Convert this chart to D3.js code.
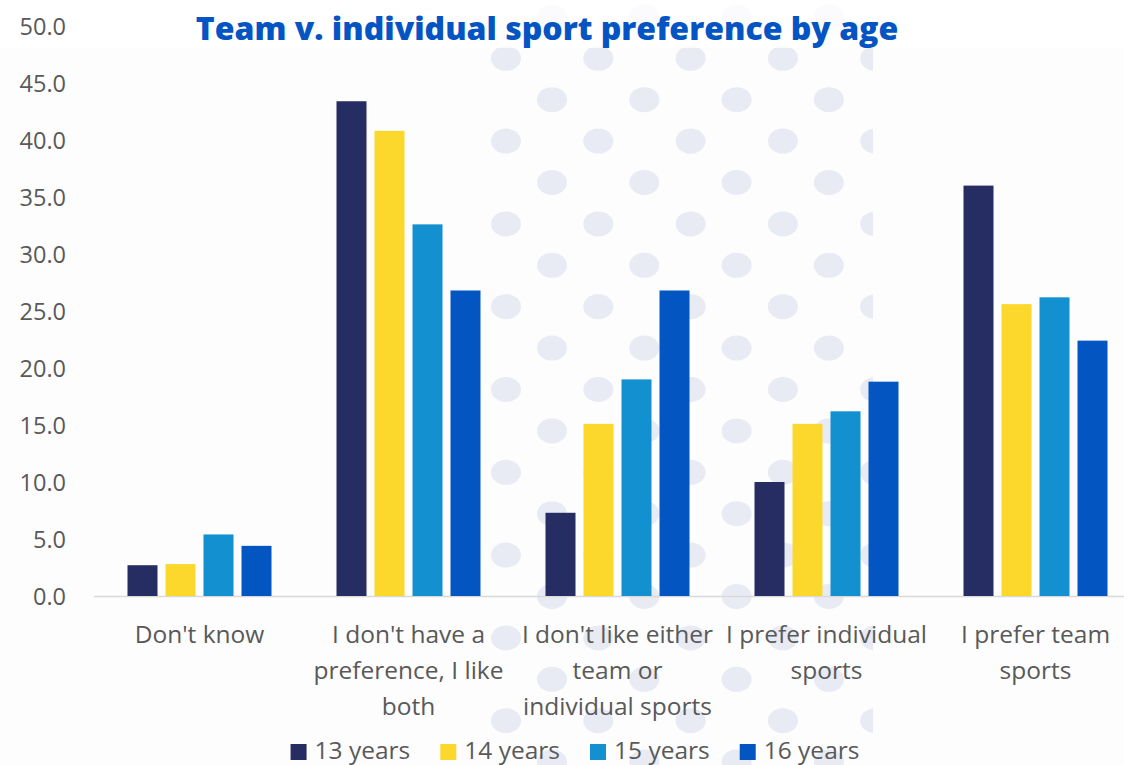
<!DOCTYPE html>
<html>
<head>
<meta charset="utf-8">
<script src="https://cdn.jsdelivr.net/npm/d3@7/dist/d3.min.js"></script>
<style>
  html, body { margin: 0; padding: 0; background: #fdfdfd; }
  svg { display: block; }
  .tick-label, .cat-label, .legend-label { font-family: "Open Sans", sans-serif; fill: #595959; }
</style>
</head>
<body>
<svg id="chart" width="1124" height="765"></svg>
<script>
// Survey answers: share of respondents (%) by age group
const categories = [
  "Don't know",
  "I don't have a preference, I like both",
  "I don't like either team or individual sports",
  "I prefer individual sports",
  "I prefer team sports"
];
// Axis label lines for each category
const categoryLines = [
  ["Don't know"],
  ["I don't have a", "preference, I like", "both"],
  ["I don't like either", "team or", "individual sports"],
  ["I prefer individual", "sports"],
  ["I prefer team", "sports"]
];
const seriesNames = ["13 years", "14 years", "15 years", "16 years"];
const age13 = [2.7, 43.4, 7.3, 10.0, 36.0];
const age14 = [2.8, 40.8, 15.1, 15.1, 25.6];
const age15 = [5.4, 32.6, 19.0, 16.2, 26.2];
const age16 = [4.4, 26.8, 26.8, 18.8, 22.4];
const seriesValues = [age13, age14, age15, age16];
const seriesColors = ["#262d63", "#fcd72c", "#1390d0", "#0356c2"];
const yTickValues = [0, 5, 10, 15, 20, 25, 30, 35, 40, 45, 50];
const titleText = "Team v. individual sport preference by age";

const W = 1124, H = 765;
const svg = d3.select("#chart");

// Decorative dotted backdrop
const dots = svg.append("g");
dots.append("clipPath").attr("id", "dotClip")
  .append("rect").attr("x", 486).attr("y", 0).attr("width", 387).attr("height", H);
const dotG = dots.append("g").attr("clip-path", "url(#dotClip)");
const rowStep = 41.4, colStep = 92.3;
for (let r = 0; r < 19; r++) {
  const cy = 16.9 + r * rowStep;
  const x0 = r % 2 === 0 ? 552 : 506;
  for (let c = 0; c < 5; c++) {
    dotG.append("ellipse")
      .attr("cx", x0 + c * colStep).attr("cy", cy)
      .attr("rx", 15).attr("ry", 12.5)
      .attr("fill", "#e8eaf4");
  }
}
// Light band behind the title
svg.append("rect").attr("x", 0).attr("y", 0).attr("width", W).attr("height", 48)
  .attr("fill", "#ffffff").attr("opacity", 0.8);

// Scales
const y = d3.scaleLinear().domain([0, 50]).range([596, 26]);
const x = d3.scaleBand().domain(categories).range([95, 1140]).paddingInner(0.311).paddingOuter(0.1555);
const x1 = d3.scaleBand().domain(seriesNames).range([0, x.bandwidth()]).paddingInner(8 / 38);

// Y axis labels
const yAxis = d3.axisLeft(y).tickValues(yTickValues).tickFormat(d3.format(".1f")).tickSize(0);
const yG = svg.append("g").attr("transform", "translate(66,0)").call(yAxis);
yG.select(".domain").remove();
yG.selectAll("text").attr("class", "tick-label").attr("x", 0).attr("dy", "0.35em")
  .style("font-size", "23.5px").style("font-family", "'Open Sans', sans-serif").attr("fill", "#595959");

// Baseline
svg.append("line").attr("x1", 94).attr("x2", W).attr("y1", y(0) + 0.5).attr("y2", y(0) + 0.5)
  .attr("stroke", "#d9d9d9").attr("stroke-width", 1.5);

// Bars
const groups = svg.append("g").selectAll("g").data(categories).join("g")
  .attr("transform", d => `translate(${x(d)},0)`);
groups.selectAll("rect")
  .data((d, i) => seriesNames.map((s, k) => ({ s, k, v: seriesValues[k][i] })))
  .join("rect")
  .attr("x", d => x1(d.s))
  .attr("width", x1.bandwidth())
  .attr("y", d => y(d.v))
  .attr("height", d => y(0) - y(d.v))
  .attr("fill", d => seriesColors[d.k]);

// Category labels
const catText = svg.append("g").selectAll("text").data(categories).join("text")
  .attr("class", "cat-label")
  .attr("transform", d => `translate(${x(d) + x.bandwidth() / 2},643)`)
  .attr("text-anchor", "middle")
  .style("font-size", "24.5px");
catText.selectAll("tspan")
  .data((d, i) => categoryLines[i])
  .join("tspan")
  .attr("x", 0)
  .attr("y", (d, j) => j * 36)
  .text(d => d);

// Title
svg.append("text").attr("x", 547).attr("y", 40).attr("text-anchor", "middle")
  .style("font-family", "'Open Sans', sans-serif").style("font-weight", 800)
  .style("font-size", "32px").attr("fill", "#0455c3")
  .text(titleText);

// Legend
const legend = svg.append("g");
const items = legend.selectAll("g").data(seriesNames).join("g");
items.append("rect").attr("width", 16).attr("height", 16).attr("y", 744)
  .attr("fill", (d, i) => seriesColors[i]);
items.append("text").attr("class", "legend-label").attr("x", 24).attr("y", 759)
  .style("font-size", "24.5px").text(d => d);
const widths = [];
items.each(function () { widths.push(d3.select(this).select("text").node().getComputedTextLength() + 24); });
const gap = 30;
const total = d3.sum(widths) + gap * (widths.length - 1);
let cx = 575 - total / 2;
items.each(function (d, i) {
  d3.select(this).attr("transform", `translate(${cx},0)`);
  cx += widths[i] + gap;
});
</script>
</body>
</html>
